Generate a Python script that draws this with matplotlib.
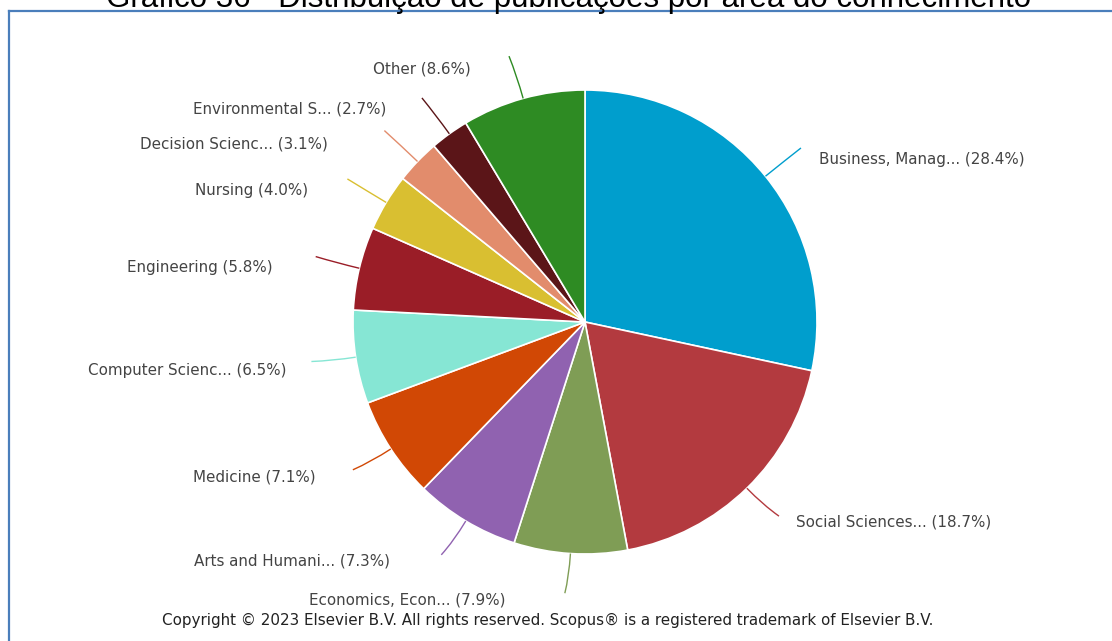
import numpy as np
import matplotlib
matplotlib.use("Agg")
import matplotlib.pyplot as plt
from matplotlib.path import Path
from matplotlib.patches import PathPatch
from matplotlib.lines import Line2D

# Subject areas and their share of publications (%)
categories = [
    "Business, Manag...", "Social Sciences...", "Economics, Econ...",
    "Arts and Humani...", "Medicine", "Computer Scienc...", "Engineering",
    "Nursing", "Decision Scienc...", "Environmental S...", "Other",
]
shares = [28.4, 18.7, 7.9, 7.3, 7.1, 6.5, 5.8, 4.0, 3.1, 2.7, 8.6]
colors = [
    "#009ecd", "#b33a3f", "#7f9d55", "#9062b0", "#d14805", "#86e6d4",
    "#9a1d27", "#d9bf31", "#e28c6c", "#5b1518", "#2e8b23",
]
title = "Gráfico 36 - Distribuição de publicações por área do conhecimento"
footer = ("Copyright © 2023 Elsevier B.V. All rights reserved. "
          "Scopus® is a registered trademark of Elsevier B.V.")

W, H, DPI = 1112, 641, 100
CX, CY, R = 585, 322, 232          # pie centre and radius in pixels

fig = plt.figure(figsize=(W / DPI, H / DPI), dpi=DPI)
fig.patch.set_facecolor("white")
ax = fig.add_axes([0, 0, 1, 1])

wedges, _ = ax.pie(
    shares, colors=colors, startangle=90, counterclock=False,
    wedgeprops=dict(edgecolor="white", linewidth=1.2),
)
ax.set_xlim(-CX / R, (W - CX) / R)
ax.set_ylim(-(H - CY) / R, CY / R)
ax.set_aspect("equal")
ax.axis("off")

# label offsets (pixels) from the end of each connector, and alignment
label_offsets = [
    (18, -12, "left"), (17, -6, "left"), (-59, -7, "right"),
    (-51, -6, "right"), (-37, -7, "right"), (-25, -9, "right"),
    (-43, -11, "right"), (-39, -12, "right"), (-56, -13, "right"),
    (-36, -11, "right"), (-38, -13, "right"),
]

for w, name, val, col, (dx, dy, ha) in zip(wedges, categories, shares,
                                           colors, label_offsets):
    ang = np.deg2rad((w.theta1 + w.theta2) / 2)
    c, s = np.cos(ang), np.sin(ang)
    side = 1 if ha == "left" else -1
    p0 = (c, s)
    p1 = (1.10 * c, 1.10 * s)
    p2 = (1.18 * c + side * 3 / R, 1.18 * s + 2 / R)
    path = Path([p0, p1, p2], [Path.MOVETO, Path.CURVE3, Path.CURVE3])
    ax.add_patch(PathPatch(path, fill=False, edgecolor=col, lw=1.0))
    ax.annotate(
        f"{name} ({val:.1f}%)", xy=p2, xytext=(dx, dy),
        textcoords="offset pixels", ha=ha, va="center",
        fontsize=10.9, color="#444444", family="DejaVu Sans",
    )

fig.text(548 / W, 1 - 620 / H, footer, ha="center", va="center",
         fontsize=10.9, color="#222222", family="DejaVu Sans")

# title clipped by the frame top
fig.text(569 / W, 1 - 7 / H, title, ha="center", va="baseline",
         fontsize=22.5, color="black", family="Liberation Sans")

# text-box frame
fig.add_artist(Line2D([9 / W, 1], [1 - 11 / H, 1 - 11 / H],
                      transform=fig.transFigure, color="#4a7ebb", lw=1.6))
fig.add_artist(Line2D([9 / W, 9 / W], [0, 1 - 11 / H],
                      transform=fig.transFigure, color="#4a7ebb", lw=1.6))

fig.savefig("out.png", dpi=DPI)
